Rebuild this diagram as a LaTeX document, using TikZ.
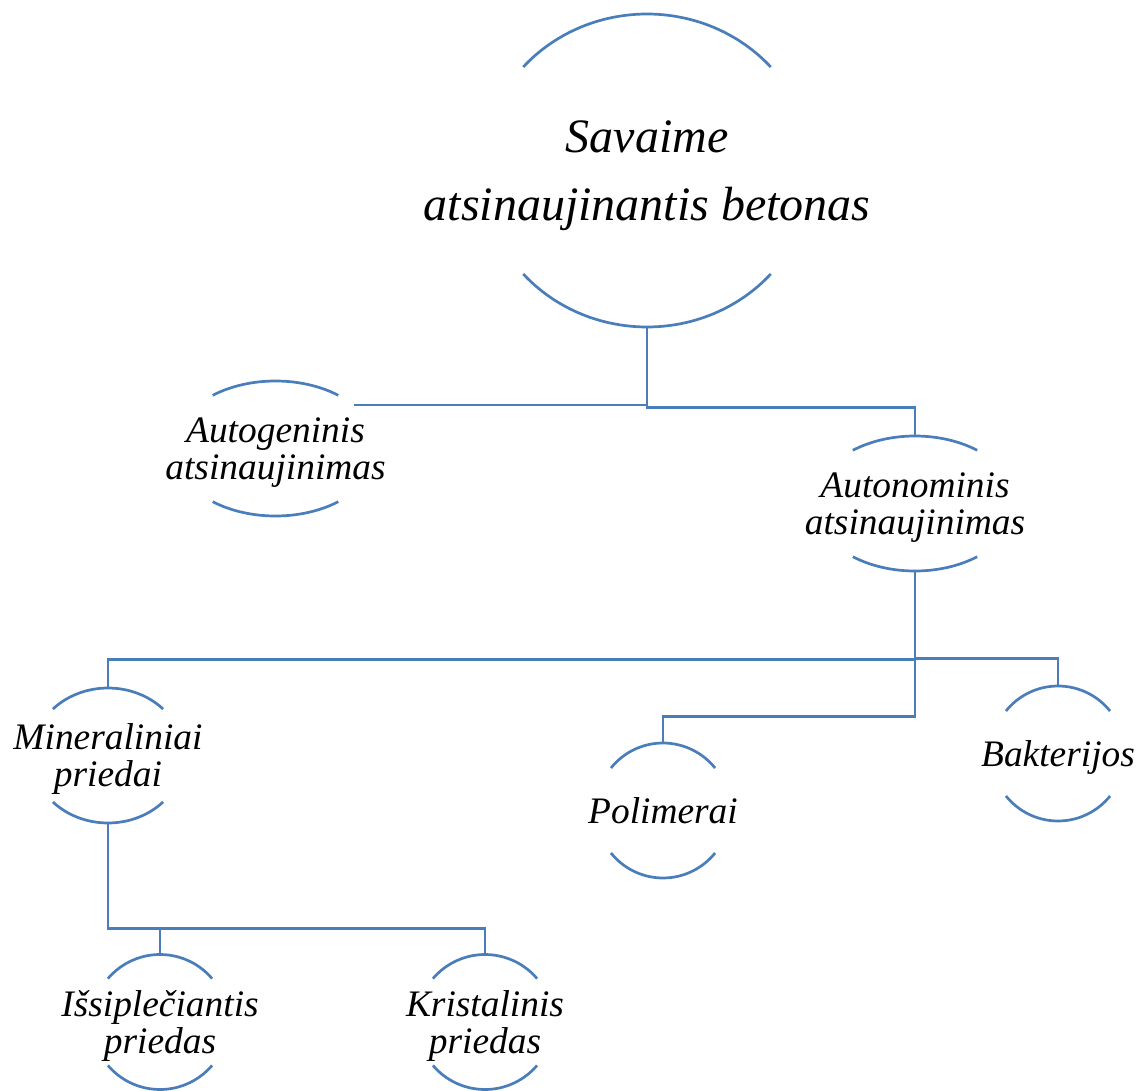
\documentclass[tikz,border=0pt]{standalone}
\usepackage{fontspec}
\setmainfont{Liberation Serif}
\definecolor{linkblue}{HTML}{4A7EBB}
\tikzset{
  itm/.style={inner sep=0pt, align=center, text depth=0pt, font=\fontsize{18.7pt}{18.5pt}\selectfont\itshape, minimum height=67.5pt},
  itmbig/.style={itm, font=\fontsize{24pt}{34pt}\selectfont\itshape, minimum height=156.5pt},
  ln/.style={draw=linkblue, line width=1.25pt},
  arcln/.style={draw=linkblue, line width=1.35pt},
}
% top and bottom arcs of a node: name, x radius, y radius, start angle
\newcommand{\nodearcs}[4]{%
  \draw[arcln] (#1.center) ++(#4:#2 and #3) arc[start angle=#4, end angle=180-#4, x radius=#2, y radius=#3];
  \draw[arcln] (#1.center) ++(180+#4:#2 and #3) arc[start angle=180+#4, end angle=360-#4, x radius=#2, y radius=#3];
}
\begin{document}
\begin{tikzpicture}[x=0.5pt, y=-0.5pt]
    \useasboundingbox (0,0) rectangle (1145,1091);
    \node[itmbig] (top) at (647,170.5) {Savaime\\atsinaujinantis betonas};
    \node[itm] (gen) at (275.5,448.5) {Autogeninis\\atsinaujinimas};
    \node[itm] (auton) at (915,503.5) {Autonominis\\atsinaujinimas};
    \node[itm] (mine) at (108,755.5) {Mineraliniai\\priedai};
    \node[itm] (poli) at (663,810.5) {Polimerai};
    \node[itm] (bakt) at (1058,753.5) {Bakterijos};
    \node[itm] (issi) at (160,1022) {Išsiplečiantis\\priedas};
    \node[itm] (krist) at (485,1022) {Kristalinis\\priedas};
    \foreach \n/\a/\b/\t in {top/82.5pt/78.25pt/41.4, gen/51pt/33.75pt/52, auton/50.5pt/33.75pt/52,
      mine/38pt/33.75pt/43.5, poli/33.5pt/33.75pt/39, bakt/33.5pt/33.75pt/39,
      issi/34pt/33.75pt/40, krist/34pt/33.75pt/40}{\nodearcs{\n}{\a}{\b}{\t}}

    \draw[ln] (top.south) |- ([xshift=39pt, yshift=21.75pt]gen.center);
    \draw[ln] (top.south) -- ++(0,80) -| (auton.north);
    \foreach \b/\d in {mine/88, bakt/87, poli/145}{\draw[ln] (auton.south) -- ++(0,\d) -| (\b.north);}
    \foreach \b in {issi, krist}{\draw[ln] (mine.south) -- ++(0,105) -| (\b.north);}
\end{tikzpicture}
\end{document}
